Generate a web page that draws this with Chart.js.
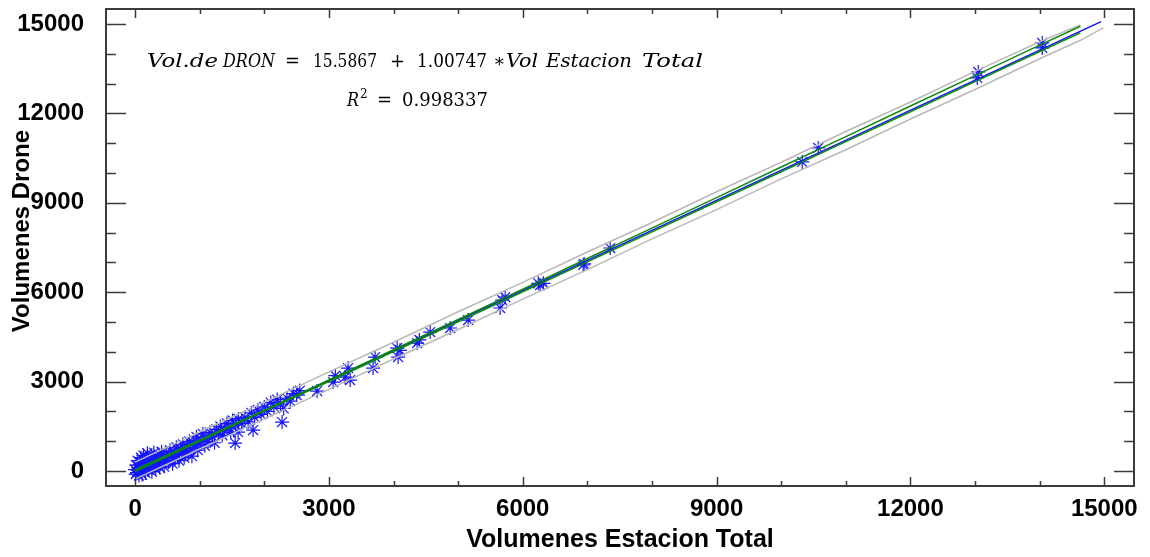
<!DOCTYPE html>
<html>
<head>
<meta charset="utf-8">
<script src="https://cdn.jsdelivr.net/npm/chart.js@4.4.1/dist/chart.umd.min.js"></script>
<style>
  html, body { margin: 0; padding: 0; background: #fff; }
  #wrap { width: 1150px; height: 557px; }
</style>
</head>
<body>
<div id="wrap"><canvas id="volChart" width="1150" height="557"></canvas></div>
<script>
// measured volumes: total station (x) vs drone (y)
const volTotal = [
    0, 10, 20, 30, 40, 50, 60, 70, 80, 90, 100, 110, 120, 130, 140, 150, 160, 170, 180, 190,
    200, 210, 220, 240, 250, 260, 270, 290, 300, 310, 320, 340, 350, 370, 380, 400, 410, 420, 440, 450,
    470, 480, 500, 520, 540, 560, 580, 600, 620, 640, 660, 680, 700, 720, 740, 760, 780, 800, 820, 840,
    860, 880, 900, 920, 950, 970, 990, 1020, 1050, 1080, 1100, 1130, 1160, 1200, 1230, 1260, 1290, 1320, 1350, 1380,
    1420, 1450, 1480, 1510, 1548, 1560, 1594, 1600, 1650, 1700, 1750, 1800, 1827, 1850, 1900, 1950, 2000, 2050, 2100, 2150,
    2200, 2250, 2275, 2300, 2350, 2400, 2450, 2500, 2550, 2817, 3065, 3100, 3250, 3297, 3328, 3684, 3715, 4056, 4071, 4100,
    4365, 4400, 4567, 4876, 5155, 5650, 5681, 5728, 6240, 6269, 6320, 6935, 6950, 7353, 10325, 10573, 13034, 13050, 14040, 14040
];
const volDrone = [
    50, -100, 200, -50, 350, 120, -150, 300, 0, 450, 80, -120, 250, 520, 30, 180, -60, 400, 120, 600,
    220, 40, 350, 150, 500, -20, 280, 620, 180, 380, 60, 450, 250, 550, 120, 380, 650, 260, 480, 150,
    350, 600, 420, 300, 700, 500, 250, 650, 420, 800, 550, 350, 750, 600, 900, 450, 700, 850, 600, 1000,
    750, 500, 950, 800, 1150, 700, 900, 1050, 1250, 850, 1100, 1000, 1300, 1150, 950, 1400, 1250, 1500, 1200, 1350,
    1600, 1450, 1300, 1700, 940, 1550, 1309, 1750, 1600, 1800, 1650, 1950, 1376, 1800, 2050, 1900, 2150, 2000, 2300, 2150,
    2400, 2250, 1644, 2100, 2450, 2350, 2600, 2550, 2700, 2685, 2987, 3200, 3150, 3456, 3054, 3456, 3826, 4128, 3826, 4050,
    4295, 4400, 4664, 4799, 5067, 5470, 5738, 5839, 6300, 6242, 6300, 6913, 6950, 7483, 10369, 10839, 13188, 13389, 14362, 14195
];

// fitted line
const fitX = [0, 14950];
const fitY = [16, 15077];

// interval limits, read along x
const bandX = [0, 1000, 2000, 3000, 4000, 5000, 6000, 7000, 8000, 9000, 10000, 11000, 12000, 13000, 14000, 14630, 14985];
const predUpper = [300, 1320, 2310, 3330, 4320, 5345, 6330, 7350, 8340, 9370, 10360, 11390, 12380, 13410, 14400, 14966, null];
const predLower = [-270, 740, 1750, 2740, 3760, 4750, 5770, 6760, 7790, 8770, 9800, 10780, 11810, 12800, 13830, 14450, 14866];
const confUpper = [45, 1045, 2045, 3060, 4075, 5085, 6105, 7130, 8150, 9175, 10200, 11220, 12245, 13265, 14290, 14920, null];
const confLower = [-15, 1000, 2010, 3005, 4010, 5005, 6015, 7020, 8025, 9035, 10040, 11050, 12055, 13065, 14075, 14700, null];

const xTicks = [0, 1000, 2000, 3000, 4000, 5000, 6000, 7000, 8000, 9000, 10000, 11000, 12000, 13000, 14000, 15000];
const yTicks = [0, 1000, 2000, 3000, 4000, 5000, 6000, 7000, 8000, 9000, 10000, 11000, 12000, 13000, 14000, 15000];
const labelStep = 3000;

const toPoints = (xs, ys) => xs.map((x, i) => ({ x: x, y: ys[i] })).filter(p => p.y !== null);

const lineSet = (label, xs, ys, color, width) => ({
    label: label,
    data: toPoints(xs, ys),
    showLine: true,
    borderColor: color,
    borderWidth: width,
    pointRadius: 0,
    fill: false,
    tension: 0
});

// frame box + inward tick marks on all four sides
const frameTicks = {
    id: 'frameTicks',
    afterDatasetsDraw(chart) {
        const { ctx, chartArea: a, scales: { x, y } } = chart;
        ctx.save();
        ctx.strokeStyle = '#3c3c3c';
        ctx.lineWidth = 1.5;
        ctx.beginPath();
        x.ticks.forEach(t => {
            const px = Math.round(x.getPixelForValue(t.value)) + 0.5;
            const len = t.value % labelStep === 0 ? 9 : 5;
            ctx.moveTo(px, a.bottom); ctx.lineTo(px, a.bottom - len);
            ctx.moveTo(px, a.top); ctx.lineTo(px, a.top + len);
        });
        y.ticks.forEach(t => {
            const py = Math.round(y.getPixelForValue(t.value)) + 0.5;
            const len = t.value % labelStep === 0 ? 20 : 10;
            ctx.moveTo(a.left, py); ctx.lineTo(a.left + len, py);
            ctx.moveTo(a.right, py); ctx.lineTo(a.right - len, py);
        });
        ctx.stroke();
        ctx.lineWidth = 2;
        ctx.strokeRect(a.left, a.top, a.right - a.left, a.bottom - a.top);
        ctx.restore();
    }
};

// axis titles and regression equation text
const annotations = {
    id: 'annotations',
    afterDraw(chart) {
        const { ctx, chartArea: a } = chart;
        ctx.save();
        ctx.fillStyle = '#000';
        ctx.textAlign = 'center';
        ctx.textBaseline = 'middle';
        ctx.font = 'bold 25px "Liberation Sans", Arial, sans-serif';
        ctx.fillText('Volumenes Estacion Total', (a.left + a.right) / 2, 540);
        ctx.font = 'bold 24px "Liberation Sans", Arial, sans-serif';
        ctx.translate(22, 231);
        ctx.rotate(-Math.PI / 2);
        ctx.fillText('Volumenes Drone', 0, 0);
        ctx.restore();

        // each run starts at x and is stretched horizontally to width w
        const serif = '"DejaVu Serif", "Liberation Serif", serif';
        const size = 18;
        const drawRuns = (runs, base) => {
            ctx.fillStyle = '#000';
            ctx.textAlign = 'left';
            ctx.textBaseline = 'alphabetic';
            runs.forEach(r => {
                const s = r.sup ? 12 : size;
                ctx.save();
                ctx.font = (r.it ? 'italic ' : '') + s + 'px ' + serif;
                const natural = ctx.measureText(r.t).width;
                const k = r.w ? r.w / natural : 1;
                ctx.translate(r.x, r.sup ? base - 8 : base);
                ctx.scale(k, 1);
                ctx.fillText(r.t, 0, 0);
                ctx.restore();
            });
        };
        drawRuns([
            { t: 'Vol.de', it: true, x: 147, w: 71 },
            { t: 'DRON', it: true, x: 223, w: 52 },
            { t: '=', x: 285, w: 15 },
            { t: '15.5867', x: 313, w: 64 },
            { t: '+', x: 390, w: 15 },
            { t: '1.00747', x: 417, w: 70 },
            { t: '\u2217', x: 493 },
            { t: 'Vol', it: true, x: 506, w: 32 },
            { t: 'Estacion', it: true, x: 546, w: 86 },
            { t: 'Total', it: true, x: 642, w: 61 }
        ], 67);
        drawRuns([
            { t: 'R', it: true, x: 347, w: 12 },
            { t: '2', sup: true, x: 360 },
            { t: '=', x: 377, w: 15 },
            { t: '0.998337', x: 402, w: 86 }
        ], 106);
    }
};

const ctx = document.getElementById('volChart').getContext('2d');

const tickFont = { family: '"Liberation Sans", Arial, sans-serif', size: 24, weight: 'bold' };

new Chart(ctx, {
    type: 'scatter',
    data: {
        datasets: [
            lineSet('Conf. upper', bandX, confUpper, '#0c8a0c', 1.5),
            lineSet('Conf. lower', bandX, confLower, '#0c8a0c', 1.5),
            lineSet('Ajuste', fitX, fitY, '#1010ff', 1.5),
            lineSet('Pred. upper', bandX, predUpper, '#b8b8b8', 1.5),
            lineSet('Pred. lower', bandX, predLower, '#b8b8b8', 1.5),
            {
                label: 'Volumenes',
                data: toPoints(volTotal, volDrone),
                pointStyle: 'star',
                pointRadius: 7,
                borderWidth: 1.2,
                borderColor: '#1515ff',
                backgroundColor: '#1515ff',
                showLine: false
            }
        ]
    },
    options: {
        responsive: false,
        animation: false,
        layout: { padding: { top: 9, right: 16, left: 0, bottom: 0 } },
        plugins: {
            legend: { display: false },
            tooltip: { enabled: false }
        },
        scales: {
            x: {
                type: 'linear',
                min: -450,
                max: 15460,
                afterBuildTicks: s => { s.ticks = xTicks.map(v => ({ value: v })); },
                afterFit: s => { s.height = 71; s.paddingLeft = 0; s.paddingRight = 0; },
                grid: { display: false },
                border: { display: false },
                ticks: {
                    autoSkip: false,
                    maxRotation: 0,
                    padding: 1,
                    color: '#000',
                    font: tickFont,
                    callback: v => (v % labelStep === 0 ? String(v) : '')
                }
            },
            y: {
                type: 'linear',
                min: -500,
                max: 15500,
                afterBuildTicks: s => { s.ticks = yTicks.map(v => ({ value: v })); },
                afterFit: s => { s.width = 106; s.paddingTop = 0; s.paddingBottom = 0; },
                grid: { display: false },
                border: { display: false },
                ticks: {
                    autoSkip: false,
                    padding: 14,
                    color: '#000',
                    font: tickFont,
                    callback: v => (v % labelStep === 0 ? String(v) : '')
                }
            }
        }
    },
    plugins: [frameTicks, annotations]
});
</script>
</body>
</html>
